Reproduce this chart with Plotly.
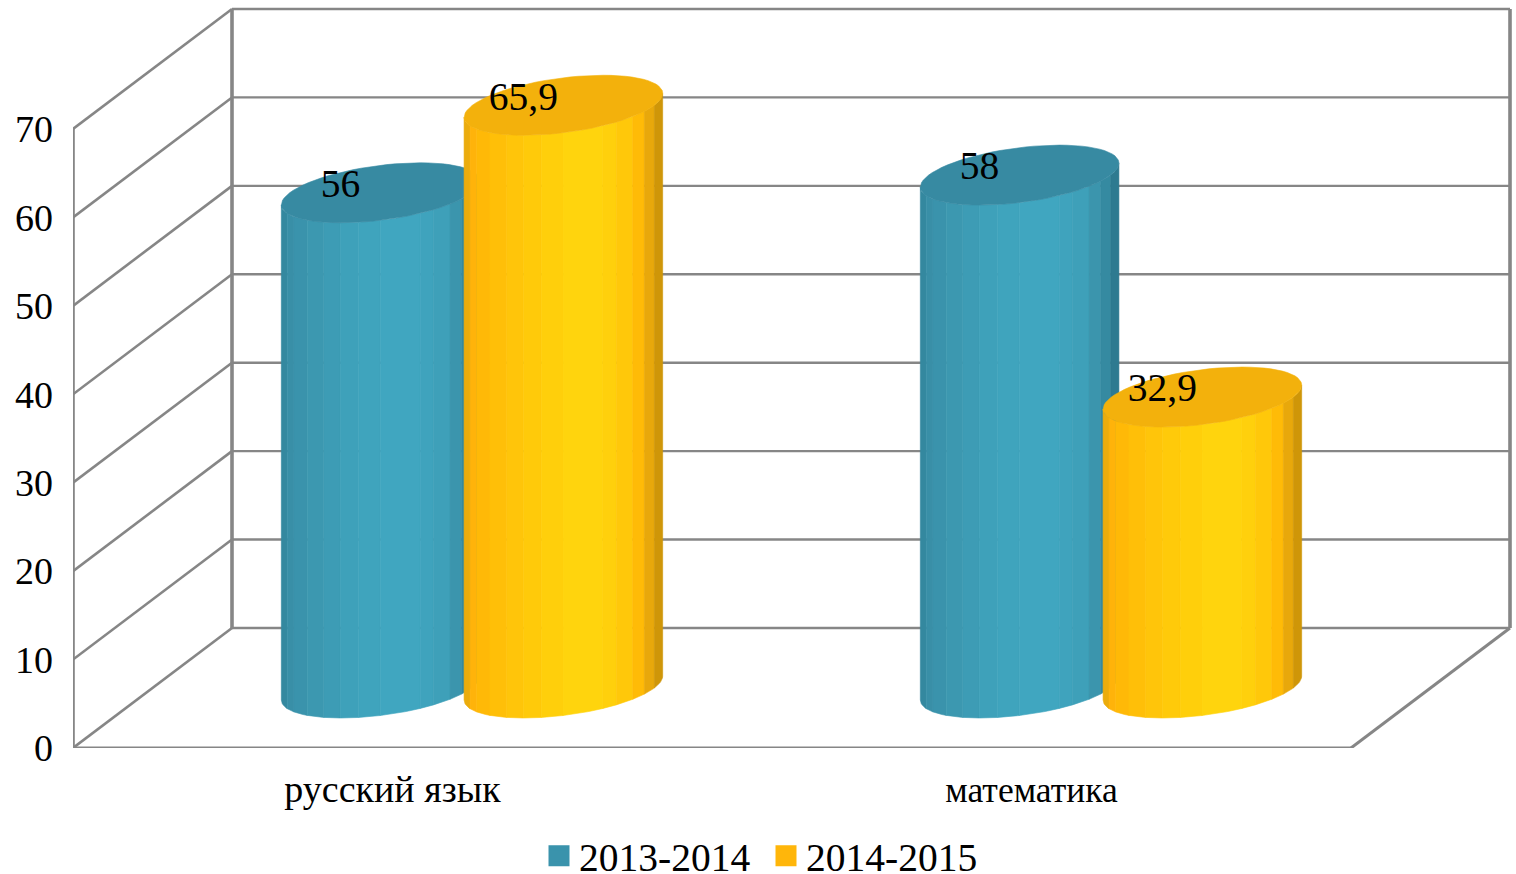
import math
import plotly.graph_objects as go

# ---- chart data ----
categories = ["русский язык", "математика"]
series_names = ["2013-2014", "2014-2015"]
values_2013 = [56, 58]
values_2014 = [65.9, 32.9]
labels_2013 = ["56", "58"]
labels_2014 = ["65,9", "32,9"]
y_ticks = [0, 10, 20, 30, 40, 50, 60, 70]

# ---- style ----
FONT = "Liberation Serif"
FS = 39.5
GRID = "#868686"
legend_colors = ["#3A93AC", "#FFB60A"]
cap_colors = ["#378AA2", "#F3B10C"]
strip_edges = [0, 18, 38, 78, 128, 178, 233, 298, 418, 458, 508, 543, 573, 598]
strip_colors = [
    ["#34889F", "#398FA7", "#3A93AC", "#3C98B0", "#3D9CB5", "#3EA1BA", "#3FA4BD",
     "#40A6C0", "#3FA3BD", "#3EA0B9", "#3B95AD", "#358AA1", "#2E7A90"],
    ["#EBAC0D", "#FFB30A", "#FFB907", "#FFBF08", "#FFC50A", "#FFCA0A", "#FFCF0B",
     "#FFD40D", "#FFD00C", "#FFC80A", "#FFBB07", "#E8A80B", "#CF9608"],
]

# ---- oblique projection (front-floor axes: category units, value units) ----
PX_CAT, PX_VAL = 639.0, 8.843
Y0_PX = 748
DEPTH_X, DEPTH_Y = 159 / PX_CAT, 120 / PX_VAL
BAR_A, BAR_D = 0.1424, 0.25
BAR_OFF = [0.357, 0.643]


def proj(cat, val, depth):
    return cat + depth * DEPTH_X, val + depth * DEPTH_Y


def ring(cx, val, t):
    d = 0.5 + BAR_D * math.sin(t)
    return proj(cx + BAR_A * math.cos(t), val, d)


fig = go.Figure()


def lines(segs, width):
    xs, ys = [], []
    for a, b in segs:
        xs += [a[0], b[0], None]
        ys += [a[1], b[1], None]
    fig.add_trace(go.Scatter(x=xs, y=ys, mode="lines", line=dict(color=GRID, width=width),
                             showlegend=False, hoverinfo="skip", cliponaxis=False))


n_cat = len(categories)
top = max(y_ticks)
lines([(proj(0, v, 1), proj(n_cat, v, 1)) for v in y_ticks], 2.4)
lines([(proj(0, v, 0), proj(0, v, 1)) for v in y_ticks], 2.6)
lines([(proj(n_cat, 0, 0), proj(n_cat, 0, 1)), (proj(0, 0, 0), proj(n_cat, 0, 0))], 3)
lines([(proj(0, 0, 0), proj(0, top, 0)), (proj(0, 0, 1), proj(0, top, 1)),
       (proj(n_cat, 0, 1), proj(n_cat, top, 1))], 3.6)

t0 = math.atan2(DEPTH_X * BAR_D, BAR_A)


def cylinder(cx, val, s):
    for i, col in enumerate(strip_colors[s]):
        f1 = strip_edges[i] / strip_edges[-1]
        f2 = strip_edges[i + 1] / strip_edges[-1]
        u1 = math.pi + math.acos(1 - 2 * f1)
        u2 = math.pi + math.acos(1 - 2 * f2)
        ts = [t0 + u1 + (u2 - u1) * k / 10 for k in range(11)]
        low = [ring(cx, 0, t) for t in ts]
        upp = [ring(cx, val, t) for t in reversed(ts)]
        pts = low + upp + low[:1]
        fig.add_trace(go.Scatter(x=[p[0] for p in pts], y=[p[1] for p in pts], mode="lines",
                                 fill="toself", fillcolor=col, line=dict(color=col, width=0.6),
                                 showlegend=False, hoverinfo="skip"))
    pts = [ring(cx, val, 2 * math.pi * k / 72) for k in range(73)]
    fig.add_trace(go.Scatter(x=[p[0] for p in pts], y=[p[1] for p in pts], mode="lines",
                             fill="toself", fillcolor=cap_colors[s],
                             line=dict(color=cap_colors[s], width=0.6),
                             showlegend=False, hoverinfo="skip"))


series = [values_2013, values_2014]
labels = [labels_2013, labels_2014]
for c in range(n_cat):
    for s in range(2):
        cylinder(c + BAR_OFF[s], series[s][c], s)

for s in range(2):
    pts = [proj(c + BAR_OFF[s] - 0.0626, series[s][c] + 0.62, 0.5) for c in range(n_cat)]
    fig.add_trace(go.Scatter(x=[p[0] for p in pts], y=[p[1] for p in pts], mode="text",
                             text=labels[s], textposition="middle center",
                             textfont=dict(family=FONT, size=FS, color="#000000"),
                             showlegend=False, hoverinfo="skip", cliponaxis=False))

for s in range(2):
    fig.add_trace(go.Scatter(x=[None], y=[None], mode="markers", name=series_names[s],
                             marker=dict(symbol="square", size=16, color=legend_colors[s],
                                         line=dict(color=legend_colors[s], width=5))))

tick_text = [categories[0], '<span style="font-size:35.5px">%s</span>' % categories[1]]
fig.update_layout(
    width=1516, height=874, margin=dict(l=73, r=0, t=0, b=874 - Y0_PX),
    paper_bgcolor="white", plot_bgcolor="white",
    font=dict(family=FONT, size=FS, color="#000000"),
    xaxis=dict(range=[0, 1443 / PX_CAT], showgrid=False, zeroline=False, showline=False,
               tickmode="array", tickvals=[i + 0.5 for i in range(n_cat)], ticktext=tick_text,
               ticks="", ticklabelstandoff=15, tickfont=dict(family=FONT, size=38)),
    yaxis=dict(range=[0, Y0_PX / PX_VAL], showgrid=False, zeroline=False, showline=False,
               tickmode="array", tickvals=y_ticks, ticks="", ticklabelstandoff=19,
               tickfont=dict(family=FONT, size=38)),
    legend=dict(orientation="h", xref="container", yref="container", x=539 / 1516, xanchor="left",
                y=(874 - 856) / 874, yanchor="middle", font=dict(family=FONT, size=FS), itemwidth=30,
                entrywidth=182, entrywidthmode="pixels", bgcolor="rgba(0,0,0,0)"),
    hovermode=False,
)
fig.write_html("out.html", config={"displayModeBar": False},
               post_script="document.body.style.margin='0';document.body.style.overflow='hidden';")
